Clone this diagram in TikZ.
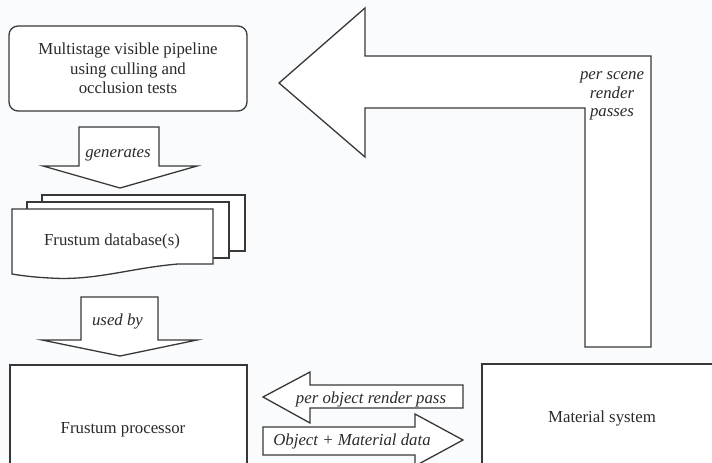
\documentclass[tikz,border=0pt]{standalone}
\usepackage{fontspec}
\setmainfont{Liberation Serif}
\definecolor{linecol}{HTML}{383838}
\definecolor{textcol}{HTML}{2A2A2A}
\definecolor{bgcol}{HTML}{FAFBFC}
\begin{document}
\begin{tikzpicture}[x=1pt, y=-1pt,
  outline/.style={draw=linecol, line width=1.3pt, line join=miter, fill=white},
  lbl/.style={text=textcol, inner sep=0pt, align=center,
              font=\fontsize{16.8}{19.5}\selectfont},
  tag/.style={text=textcol, inner sep=0pt, align=center,
              font=\fontsize{16.8}{18.5}\selectfont\itshape}
]
\useasboundingbox (0,0) rectangle (712,463);
\fill[bgcol] (0,0) rectangle (712,463);
\clip (0,0) rectangle (712,463);

% visibility pipeline (rounded box)
\node[outline, lbl, rounded corners=9pt, minimum width=238pt, minimum height=85pt]
  (pipeline) at (128,68.5)
  {Multistage visible pipeline\\using culling and\\occlusion tests};

% "generates" block arrow
\draw[outline] (79,127) -- (159,127) -- (159,166) -- (197,166) -- (120,188)
  -- (43,166) -- (79,166) -- cycle;
\node[tag, anchor=base] (generates) at (118,157) {generates};

% stacked frustum database pages
\draw[outline] (42,195) rectangle (245,251);
\draw[outline] (27,202) rectangle (229,258);
\draw[outline] (12,209) -- (213,209) -- (213,264) -- (178,264)
  .. controls (130,268) and (95,281) .. (50,278)
  .. controls (30,277) and (18,275) .. (12,274) -- cycle;
\node[lbl, anchor=base] (database) at (112,245) {Frustum database(s)};

% "used by" block arrow
\draw[outline] (81,297) -- (158,297) -- (158,340) -- (197,340) -- (120,356)
  -- (42,340) -- (81,340) -- cycle;
\node[tag, anchor=base] (usedby) at (117.5,325) {used by};

% frustum processor
\draw[outline] (10,365) rectangle (247,490);
\node[lbl, anchor=base] (processor) at (123,433) {Frustum processor};

% material system
\draw[outline] (482,364) rectangle (730,490);
\node[lbl, anchor=base] (material) at (602,422) {Material system};

% per scene render passes (L-shaped block arrow)
\draw[outline] (279,83) -- (365,8) -- (365,56) -- (651,56) -- (651,347)
  -- (585,347) -- (585,108) -- (365,108) -- (365,157) -- cycle;
\node[tag] (scene) at (612,96) {per scene\\render\\passes};

% per object render pass (left block arrow)
\draw[outline] (263,397) -- (310,372) -- (310,385) -- (463,385) -- (463,408)
  -- (310,408) -- (310,423) -- cycle;
\node[tag, anchor=base] (objpass) at (371,403) {per object render pass};

% object + material data (right block arrow)
\draw[outline] (263,427) -- (415,427) -- (415,414) -- (463,440) -- (415,466)
  -- (415,455) -- (263,455) -- cycle;
\node[tag, anchor=base] (objdata) at (352,445) {Object + Material data};
\end{tikzpicture}
\end{document}
